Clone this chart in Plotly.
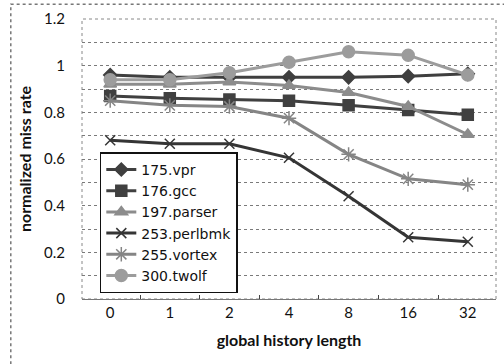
import plotly.graph_objects as go

categories = ["0", "1", "2", "4", "8", "16", "32"]
vpr = [0.96, 0.95, 0.95, 0.95, 0.95, 0.955, 0.965]
gcc = [0.87, 0.86, 0.855, 0.85, 0.83, 0.81, 0.79]
parser = [0.92, 0.92, 0.93, 0.915, 0.885, 0.825, 0.705]
perlbmk = [0.68, 0.665, 0.665, 0.605, 0.44, 0.265, 0.245]
vortex = [0.85, 0.83, 0.825, 0.775, 0.62, 0.515, 0.49]
twolf = [0.94, 0.94, 0.97, 1.015, 1.06, 1.045, 0.96]

series = [
    ("175.vpr", vpr, "#3f3f3f", "diamond", 10),
    ("176.gcc", gcc, "#404040", "square", 11),
    ("197.parser", parser, "#8c8c8c", "triangle-up", 11),
    ("253.perlbmk", perlbmk, "#353535", "x-thin", 10),
    ("255.vortex", vortex, "#858585", "asterisk", 12),
    ("300.twolf", twolf, "#9c9c9c", "circle", 12),
]

fig = go.Figure()
for name, vals, color, sym, size in series:
    fig.add_trace(go.Scatter(
        x=categories, y=vals, name=name, mode="lines+markers",
        line=dict(color=color, width=3),
        marker=dict(symbol=sym, size=size, color=color,
                    line=dict(color=color, width=1.5)),
    ))

font = "Lato, 'Open Sans', sans-serif"
fig.update_layout(
    width=504, height=364,
    margin=dict(l=82, r=8, t=19, b=65),
    paper_bgcolor="white", plot_bgcolor="white",
    font=dict(family=font, size=14, color="#111"),
    showlegend=True,
    legend=dict(
        x=0.043, y=0.02, xanchor="left", yanchor="bottom",
        bgcolor="white", bordercolor="#111", borderwidth=1.5,
        font=dict(size=14, family="'DejaVu Sans', sans-serif", color="#111"),
        tracegroupgap=0, itemwidth=30,
    ),
    xaxis=dict(
        type="category", tickson="boundaries", ticks="inside", ticklen=4,
        tickcolor="#444", showline=True, linecolor="#777", linewidth=1,
        showgrid=False, mirror=False,
        title=dict(text="<b>global history length</b>", font=dict(size=16), standoff=14),
        tickfont=dict(size=15),
    ),
    yaxis=dict(
        range=[0, 1.2], tickvals=[0, 0.2, 0.4, 0.6, 0.8, 1.0, 1.2],
        ticktext=["0", "0.2", "0.4", "0.6", "0.8", "1", "1.2"],
        showgrid=False, zeroline=False, showline=False,
        ticks="", ticklabelstandoff=16,
        title=dict(text="<b>normalized miss rate</b>", font=dict(size=16), standoff=8),
        tickfont=dict(size=15),
        minor=dict(dtick=0.1, showgrid=True, gridcolor="#7a7a7a", griddash="dot", gridwidth=1),
    ),
)
# dotted frame of plot area
fig.add_shape(type="rect", xref="paper", yref="paper", x0=0, y0=0, x1=1, y1=1,
              line=dict(color="#888", width=1, dash="dot"), layer="below")
# outer chart frame
fig.add_shape(type="rect", xref="paper", yref="paper", x0=-0.172, y0=-0.3, x1=1.2, y1=1.053,
              line=dict(color="#777", width=1.5, dash="dot"), layer="below")

fig.write_html("out.html")
